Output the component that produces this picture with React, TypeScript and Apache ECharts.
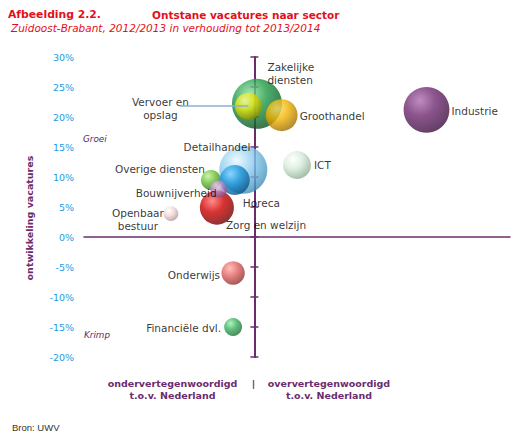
import React, { useEffect, useRef } from "react";
import * as echarts from "echarts";

// sectors, drawn in this order (later ones sit on top)
const sectors = [
  "Zakelijke diensten",
  "Groothandel",
  "Vervoer en opslag",
  "Industrie",
  "ICT",
  "Detailhandel",
  "Zorg en welzijn",
  "Overige diensten",
  "Horeca",
  "Bouwnijverheid",
  "Openbaar bestuur",
  "Onderwijs",
  "Financiële dvl.",
];
const labelTexts = [
  "Zakelijke\ndiensten",
  "Groothandel",
  "Vervoer en\nopslag",
  "Industrie",
  "ICT",
  "Detailhandel",
  "Zorg en welzijn",
  "Overige diensten",
  "Horeca",
  "Bouwnijverheid",
  "Openbaar\nbestuur",
  "Onderwijs",
  "Financiële dvl.",
];
// relative representation vs Nederland (x), growth of vacancies in % (y), bubble weight
const representatie = [0.03, 0.32, -0.07, 2.02, 0.5, -0.13, -0.44, -0.51, -0.23, -0.42, -0.98, -0.25, -0.25];
const ontwikkeling = [22.2, 20.3, 21.8, 21.2, 12.0, 11.2, 4.9, 9.5, 9.5, 8.0, 3.9, -6.0, -15.0];
const vacatures = [25, 10.2, 7.3, 21, 7.8, 23, 11.6, 4, 9, 2.9, 2.2, 5.5, 3.2];

const yTicks = { min: -20, max: 30, step: 5 };
const xRange = { min: -2, max: 3 };

// styling per sector: [light, base, dark], label align and offset from centre
const palette: Record<string, string[]> = {
  "Zakelijke diensten": ["#8fe09f", "#1e9a45", "#0b4d1f"],
  Groothandel: ["#ffe070", "#f0b400", "#9a6a00"],
  "Vervoer en opslag": ["#ffffa0", "#e8e810", "#8a8a00"],
  Industrie: ["#b070b0", "#6e2a70", "#3a0e3c"],
  ICT: ["#ffffff", "#d6ecda", "#8aa890"],
  Detailhandel: ["#e8f7ff", "#8ccdf0", "#3a8ab8"],
  "Zorg en welzijn": ["#ff7070", "#d00000", "#6a0000"],
  "Overige diensten": ["#c0f090", "#6cc23a", "#2e7010"],
  Horeca: ["#7fd4ff", "#1b95d8", "#0a4e80"],
  Bouwnijverheid: ["#f4d8f8", "#c090cc", "#7a4a88"],
  "Openbaar bestuur": ["#ffffff", "#f0d8d8", "#b09090"],
  Onderwijs: ["#ffb0a8", "#e06462", "#8a2a2a"],
  "Financiële dvl.": ["#a0f0b0", "#3db060", "#1a6a30"],
};
const labelPlace: Record<string, [string, number, number]> = {
  "Zakelijke diensten": ["left", 10.5, -30.5],
  Groothandel: ["left", 18, 1],
  "Vervoer en opslag": ["center", -88, 2],
  Industrie: ["left", 25, 1],
  ICT: ["left", 17, 0],
  Detailhandel: ["right", 7, -23],
  "Zorg en welzijn": ["left", 9, 17],
  "Overige diensten": ["right", -6, -11],
  Horeca: ["left", 8, 23],
  Bouwnijverheid: ["right", -2, 4],
  "Openbaar bestuur": ["center", -33, 5.5],
  Onderwijs: ["right", -13, 2],
  "Financiële dvl.": ["right", -12, 1],
};

const PURPLE = "#6b2c6e";
const RED = "#e30f1c";
const FONT = "DejaVu Sans";

export default function App() {
  const chartRef = useRef<HTMLDivElement>(null);

  useEffect(() => {
    if (!chartRef.current) return;
    const chart = echarts.init(chartRef.current, undefined, { renderer: "svg" });

    const data = sectors.map((name, i) => {
      const [light, base, dark] = palette[name];
      const [align, dx, dy] = labelPlace[name];
      return {
        name,
        value: [representatie[i], ontwikkeling[i], vacatures[i]],
        itemStyle: {
          color: new echarts.graphic.RadialGradient(0.36, 0.3, 0.75, [
            { offset: 0, color: light },
            { offset: 0.45, color: base },
            { offset: 1, color: dark },
          ]),
        },
        label: {
          show: true,
          formatter: labelTexts[i],
          position: "inside",
          align,
          verticalAlign: "middle",
          offset: [dx, dy],
        },
      };
    });

    const vervoer = sectors.indexOf("Vervoer en opslag");

    const option: any = {
      animation: false,
      grid: { left: 84, right: 22, top: 57, bottom: 80 },
      xAxis: {
        type: "value",
        min: xRange.min,
        max: xRange.max,
        axisLine: { onZero: true, lineStyle: { color: PURPLE, width: 1.5 } },
        axisTick: { show: false },
        axisLabel: { show: false },
        splitLine: { show: false },
      },
      yAxis: [
        {
          type: "value",
          min: yTicks.min,
          max: yTicks.max,
          interval: yTicks.step,
          position: "left",
          axisLine: { show: false, onZero: false },
          axisTick: { show: false },
          splitLine: { show: false },
          axisLabel: {
            formatter: "{value}%",
            color: "#1e9be0",
            fontFamily: FONT,
            fontSize: 9.5,
            margin: 10,
          },
        },
        {
          type: "value",
          min: yTicks.min,
          max: yTicks.max,
          interval: yTicks.step,
          position: "left",
          axisLine: { show: true, onZero: true, onZeroAxisIndex: 0, lineStyle: { color: PURPLE, width: 2 } },
          axisTick: { show: true, inside: false, length: 4, lineStyle: { color: PURPLE, width: 1.5 } },
          axisLabel: { show: false },
          splitLine: { show: false },
        },
        {
          type: "value",
          min: yTicks.min,
          max: yTicks.max,
          interval: yTicks.step,
          position: "left",
          axisLine: { show: false, onZero: true, onZeroAxisIndex: 0 },
          axisTick: { show: true, inside: true, length: 4, lineStyle: { color: PURPLE, width: 1.5 } },
          axisLabel: { show: false },
          splitLine: { show: false },
        },
      ],
      series: [
        {
          type: "scatter",
          yAxisIndex: 0,
          symbol: "circle",
          symbolSize: (v: number[]) => 10 * Math.sqrt(v[2]),
          data,
          label: {
            color: "#000",
            fontFamily: FONT,
            fontSize: 10.5,
            lineHeight: 13,
          },
          emphasis: { disabled: true },
          markLine: {
            silent: true,
            symbol: "none",
            label: { show: false },
            lineStyle: { color: "#8eaed0", width: 1.5, type: "solid" },
            data: [
              [
                { coord: [-0.88, ontwikkeling[vervoer]] },
                { coord: [representatie[vervoer], ontwikkeling[vervoer]] },
              ],
            ],
          },
        },
      ],
      graphic: [
        {
          type: "text",
          left: 8,
          top: 9,
          style: { text: "Afbeelding 2.2.", fill: RED, font: `bold 10.8px "${FONT}"` },
        },
        {
          type: "text",
          left: 152,
          top: 9,
          style: { text: "Ontstane vacatures naar sector", fill: RED, font: `bold 10.5px "${FONT}"` },
        },
        {
          type: "text",
          left: 11,
          top: 22,
          style: {
            text: "Zuidoost-Brabant, 2012/2013 in verhouding tot 2013/2014",
            fill: RED,
            font: `italic 10.5px "${FONT}"`,
          },
        },
        {
          type: "text",
          x: 29,
          y: 218,
          rotation: Math.PI / 2,
          style: {
            text: "ontwikkeling vacatures",
            fill: PURPLE,
            font: `bold 9.5px "${FONT}"`,
            align: "center",
            verticalAlign: "middle",
          },
        },
        {
          type: "text",
          x: 83,
          y: 139,
          style: { text: "Groei", fill: "#5c2a5c", font: `italic 8.8px "${FONT}"`, verticalAlign: "middle" },
        },
        {
          type: "text",
          x: 84,
          y: 335,
          style: { text: "Krimp", fill: "#5c2a5c", font: `italic 8.8px "${FONT}"`, verticalAlign: "middle" },
        },
        {
          type: "text",
          x: 172.5,
          y: 389,
          style: {
            text: "ondervertegenwoordigd\nt.o.v. Nederland",
            fill: PURPLE,
            font: `bold 9.5px "${FONT}"`,
            align: "center",
            verticalAlign: "middle",
            lineHeight: 12,
          },
        },
        {
          type: "text",
          x: 253.5,
          y: 383,
          style: { text: "|", fill: PURPLE, font: `bold 9.5px "${FONT}"`, align: "center", verticalAlign: "middle" },
        },
        {
          type: "text",
          x: 329,
          y: 389,
          style: {
            text: "oververtegenwoordigd\nt.o.v. Nederland",
            fill: PURPLE,
            font: `bold 9.5px "${FONT}"`,
            align: "center",
            verticalAlign: "middle",
            lineHeight: 12,
          },
        },
        {
          type: "text",
          x: 12,
          y: 427,
          style: { text: "Bron: UWV", fill: "#333", font: `9.5px "Liberation Sans"`, verticalAlign: "middle" },
        },
      ],
    };

    chart.setOption(option);
    return () => chart.dispose();
  }, []);

  return (
    <div
      ref={chartRef}
      style={{ position: "absolute", left: 0, top: 0, width: 532, height: 437, background: "#fff" }}
    />
  );
}
